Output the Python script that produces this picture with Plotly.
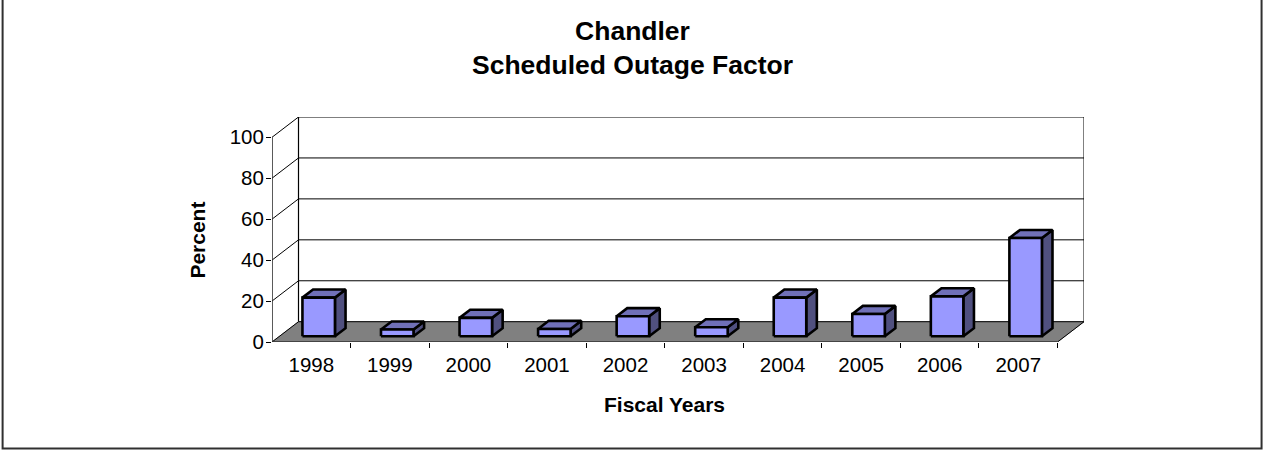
import plotly.graph_objects as go

years = ["1998","1999","2000","2001","2002","2003","2004","2005","2006","2007"]
values = [18.9, 3.3, 9.0, 3.6, 9.8, 4.4, 18.9, 10.9, 19.5, 48.0]
y_ticks = [0, 20, 40, 60, 80, 100]

W, H = 1264, 450
X0, X1 = 272.3, 1084.0   # plot pixels
Y0, Y1 = 342.3, 117.0
PX_X = 78.55
PX_Y = 2.048
DX = 26.5 / PX_X
DY = 20.3 / PX_Y
bw = 32.5 / PX_X
D0, D1 = 0.28, 0.68
n = len(years)

INK = "#000000"
fig = go.Figure()

def poly(xs, ys, fill=None, lw=1.0, color=INK):
    fig.add_trace(go.Scatter(x=xs, y=ys, mode="lines", line=dict(color=color, width=lw),
                             fill="toself" if fill else None, fillcolor=fill,
                             hoverinfo="skip", showlegend=False))

# floor
poly([0, n, n + DX, DX, 0], [0, 0, DY, DY, 0], fill="#808080", lw=0.8, color="#808080")
# walls and gridlines
for v in y_ticks:
    poly([0, DX, n + DX], [v, v + DY, v + DY], lw=1.0)
poly([DX, DX], [DY, 100 + DY], lw=1.2)
poly([n + DX, n + DX], [DY, 100 + DY], lw=1.0)
poly([n, n + DX], [0, DY], lw=1.0)
# front axes
poly([0, 0], [0, 100], lw=1.6, color="#303030")
poly([0, n], [0, 0], lw=1.6, color="#303030")

# bars
for i, v in enumerate(values):
    cx = i + 0.5
    xl = cx - bw / 2 + D0 * DX
    xr = cx + bw / 2 + D0 * DX
    yb = D0 * DY
    yt = yb + v
    sx = (D1 - D0) * DX
    sy = (D1 - D0) * DY
    poly([xr, xr + sx, xr + sx, xr, xr], [yb, yb + sy, yt + sy, yt, yb], fill="#50507f", lw=2.6)
    poly([xl, xl + sx, xr + sx, xr, xl], [yt, yt + sy, yt + sy, yt, yt], fill="#7070b8", lw=2.6)
    poly([xl, xr, xr, xl, xl], [yb, yb, yt, yt, yb], fill="#9999ff", lw=2.6)

font = "Liberation Sans, Arial, sans-serif"
def px_x(p):
    return (p - X0) / (X1 - X0)
def px_y(p):
    return (Y0 - p) / (Y0 - Y1)

fig.update_layout(
    width=W, height=H,
    margin=dict(l=X0, r=W - X1, t=Y1, b=H - Y0, autoexpand=False),
    paper_bgcolor="white", plot_bgcolor="white",
    showlegend=False,
    font=dict(family=font, color="black", size=20),
    title=dict(text="<b>Chandler<br>Scheduled Outage Factor</b>", x=632.5 / W, xanchor="center",
               y=1 - 40 / H, yanchor="top", font=dict(size=26.5, family=font)),
    xaxis=dict(range=[0, n + DX], tickmode="array", tickvals=[i + 0.5 for i in range(n)], ticktext=years,
               ticks="", showgrid=False, zeroline=False, showline=False,
               tickfont=dict(size=20.5), ticklabelstandoff=8,
               minor=dict(tickmode="array", tickvals=list(range(1, n + 1)), ticks="outside", ticklen=5,
                          tickcolor=INK, tickwidth=1, showgrid=False)),
    yaxis=dict(range=[0, 100 + DY], tickmode="array", tickvals=y_ticks, ticks="outside", ticklen=5,
               tickcolor=INK, tickwidth=1, showgrid=False, zeroline=False, showline=False,
               tickfont=dict(size=20.5), ticklabelstandoff=-2),
    annotations=[
        dict(text="<b>Fiscal Years</b>", x=n / 2, xref="x", y=px_y(405), yref="paper",
             showarrow=False, xanchor="center", yanchor="middle", font=dict(size=21)),
        dict(text="<b>Percent</b>", x=px_x(198.3), xref="paper", y=50, yref="y", textangle=-90,
             showarrow=False, xanchor="center", yanchor="middle", font=dict(size=21)),
    ],
    shapes=[dict(type="rect", xref="paper", yref="paper",
                 x0=px_x(3.0), x1=px_x(1261.5), y0=px_y(449), y1=px_y(-3),
                 line=dict(color="#303030", width=2), layer="below")],
)

fig.write_html("out.html", config=dict(displayModeBar=False),
               post_script="document.body.style.margin='0';document.body.style.overflow='hidden';")
